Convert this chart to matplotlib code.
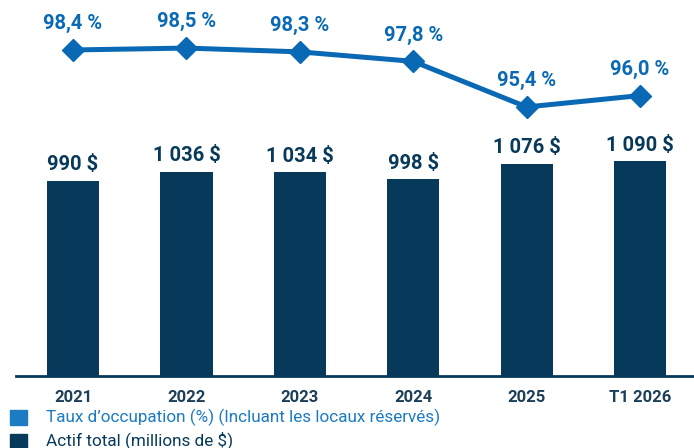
import matplotlib
matplotlib.use("Agg")
import matplotlib.pyplot as plt
from matplotlib.patches import Rectangle

categories = ["2021", "2022", "2023", "2024", "2025", "T1 2026"]
actif_total = [990, 1036, 1034, 998, 1076, 1090]
actif_labels = ["990 $", "1 036 $", "1 034 $", "998 $", "1 076 $", "1 090 $"]
taux_occupation = [98.4, 98.5, 98.3, 97.8, 95.4, 96.0]
taux_labels = ["98,4 %", "98,5 %", "98,3 %", "97,8 %", "95,4 %", "96,0 %"]
legend_labels = ["Taux d\u2019occupation (%) (Incluant les locaux réservés)",
                 "Actif total (millions de $)"]

plt.rcParams['font.family'] = ["Roboto", "DejaVu Sans"]

BAR = "#073a5a"
LINE = "#0a69b4"
LEG_BLUE = "#1c7bc3"
TICK = "#1c3f5a"

W, H = 694, 448
fig = plt.figure(figsize=(W / 100, H / 100), dpi=100)
ax = fig.add_axes([16 / W, 72 / H, (W - 16) / W, 376 / H])
x = list(range(len(categories)))
ax.bar(x, actif_total, width=0.46, color=BAR, zorder=2)
ax.set_xlim(-0.503, 5.476)
ax.set_ylim(0, 1906)
for s in ["top", "right", "left"]:
    ax.spines[s].set_visible(False)
ax.spines["bottom"].set_color(BAR)
ax.spines["bottom"].set_linewidth(2)
ax.set_yticks([])
ax.set_xticks(x)
ax.set_xticklabels(categories, fontsize=12, fontweight="bold", color=TICK)
ax.tick_params(axis="x", length=0, pad=10)
for xi, v, lab in zip(x, actif_total, actif_labels):
    ax.annotate(lab, (xi, v), xytext=(0, 4.5), textcoords="offset points",
                ha="center", va="bottom", fontsize=14.5, fontweight="bold", color=BAR)

ax2 = ax.twinx()
ax2.set_ylim(81.24, 101.03)
ax2.plot(x, taux_occupation, color=LINE, lw=3.6, marker="D", markersize=11, zorder=3)
ax2.axis("off")
for xi, v, lab in zip(x, taux_occupation, taux_labels):
    ax2.annotate(lab, (xi, v), xytext=(0, 12), textcoords="offset points",
                 ha="center", va="bottom", fontsize=14.5, fontweight="bold", color=LINE)

# legend
fig.patches.append(Rectangle((10 / W, (H - 425) / H), 17 / W, 15 / H,
                             transform=fig.transFigure, color=LEG_BLUE, figure=fig))
fig.patches.append(Rectangle((10 / W, (H - 449) / H), 17 / W, 15 / H,
                             transform=fig.transFigure, color=BAR, figure=fig))
fig.text(46 / W, (H - 417) / H, legend_labels[0], fontsize=12.3, color=LEG_BLUE,
         va="center", ha="left")
fig.text(46 / W, (H - 440) / H, legend_labels[1], fontsize=12.3, color=BAR,
         va="center", ha="left")

fig.savefig("out.png", dpi=100)
